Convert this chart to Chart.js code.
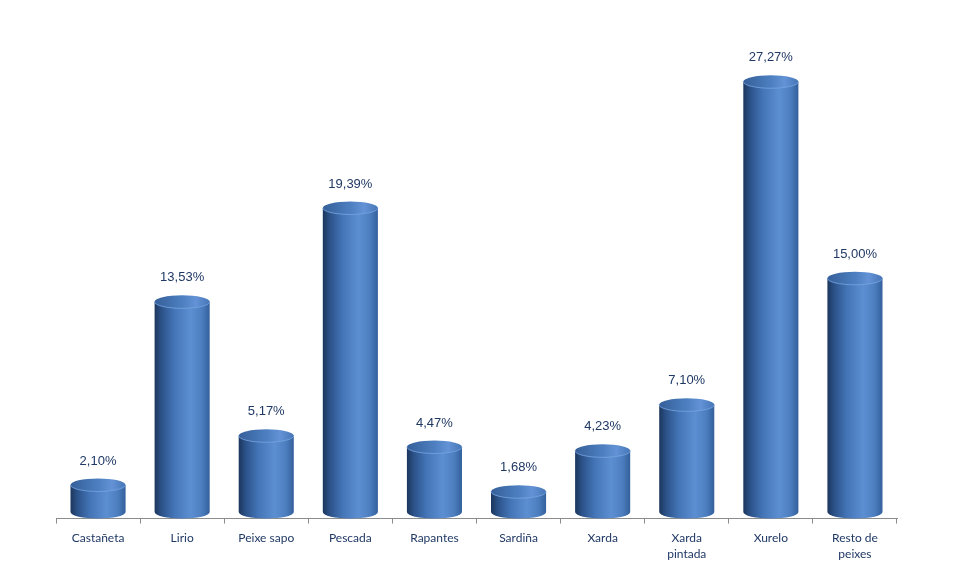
<!DOCTYPE html>
<html>
<head>
<meta charset="utf-8">
<script src="https://cdn.jsdelivr.net/npm/chart.js@4/dist/chart.umd.min.js"></script>
<style>
    html, body { margin: 0; padding: 0; background: #fff; }
    #wrap { width: 953px; height: 577px; }
</style>
</head>
<body>
<div id="wrap"><canvas id="myChart" width="953" height="577"></canvas></div>
<script>
var categories = ["Castañeta", "Lirio", "Peixe sapo", "Pescada", "Rapantes", "Sardiña", "Xarda", ["Xarda", "pintada"], "Xurelo", ["Resto de", "peixes"]];
var values = [2.10, 13.53, 5.17, 19.39, 4.47, 1.68, 4.23, 7.10, 27.27, 15.00];

function formatPct(v) {
    return v.toFixed(2).replace(".", ",") + "%";
}

// draws the bars as cylinders, using the bar elements placed by chart.js
var cylinderPlugin = {
    id: "cylinder",
    beforeDatasetDraw: function (chart, args) {
        var ctx = chart.ctx;
        var meta = args.meta;
        var ry = 6.5;
        for (var i = 0; i < meta.data.length; i++) {
            var el = meta.data[i];
            var cx = el.x;
            var rx = el.width / 2;
            var left = cx - rx;
            var right = cx + rx;
            var topY = el.y;
            var botY = el.base - ry;

            var grad = ctx.createLinearGradient(left, 0, right, 0);
            grad.addColorStop(0, "#1c365c");
            grad.addColorStop(0.12, "#2b5187");
            grad.addColorStop(0.35, "#4374b6");
            grad.addColorStop(0.65, "#5c8fd2");
            grad.addColorStop(0.85, "#4d7fc0");
            grad.addColorStop(1, "#34609c");

            ctx.save();
            ctx.beginPath();
            ctx.moveTo(left, topY);
            ctx.lineTo(left, botY);
            ctx.ellipse(cx, botY, rx, ry, 0, Math.PI, 0, true);
            ctx.lineTo(right, topY);
            ctx.closePath();
            ctx.fillStyle = grad;
            ctx.fill();

            // top cap
            var capGrad = ctx.createLinearGradient(left, 0, right, 0);
            capGrad.addColorStop(0, "#355f99");
            capGrad.addColorStop(0.5, "#4d7fc0");
            capGrad.addColorStop(0.75, "#6393d6");
            capGrad.addColorStop(1, "#4676b6");
            ctx.beginPath();
            ctx.ellipse(cx, topY, rx, ry, 0, 0, Math.PI * 2);
            ctx.fillStyle = capGrad;
            ctx.fill();

            ctx.beginPath();
            ctx.ellipse(cx, topY, rx, ry, 0, 0, Math.PI);
            ctx.strokeStyle = "rgba(120,165,225,0.8)";
            ctx.lineWidth = 1;
            ctx.stroke();

            // value label
            ctx.fillStyle = "#1f3864";
            ctx.font = "13px 'Liberation Sans', Arial, sans-serif";
            ctx.textAlign = "center";
            ctx.textBaseline = "middle";
            ctx.fillText(formatPct(values[i]), cx, topY - 24);
            ctx.restore();
        }
        return false;
    },
};

new Chart(document.getElementById("myChart"), {
    type: "bar",
    data: {
        labels: categories,
        datasets: [
            {
                data: values,
                backgroundColor: "#4a7bbd",
                categoryPercentage: 1,
                barPercentage: 0.655,
            },
        ],
    },
    options: {
        responsive: false,
        animation: false,
        events: [],
        layout: {
            padding: { left: 56, right: 56, top: 38, bottom: 9 },
        },
        plugins: {
            legend: { display: false },
            tooltip: { enabled: false },
        },
        scales: {
            x: {
                offset: true,
                grid: {
                    display: true,
                    offset: true,
                    drawOnChartArea: false,
                    drawTicks: true,
                    tickLength: 5,
                    color: "#8c8c8c",
                },
                border: { display: true, color: "#8c8c8c" },
                ticks: {
                    color: "#1f3864",
                    font: { family: "Lato, 'Liberation Sans', sans-serif", size: 12, lineHeight: 1.35 },
                    padding: 6,
                    maxRotation: 0,
                    autoSkip: false,
                },
            },
            y: {
                display: false,
                min: 0,
                max: 30,
            },
        },
    },
    plugins: [cylinderPlugin],
});
</script>
</body>
</html>
